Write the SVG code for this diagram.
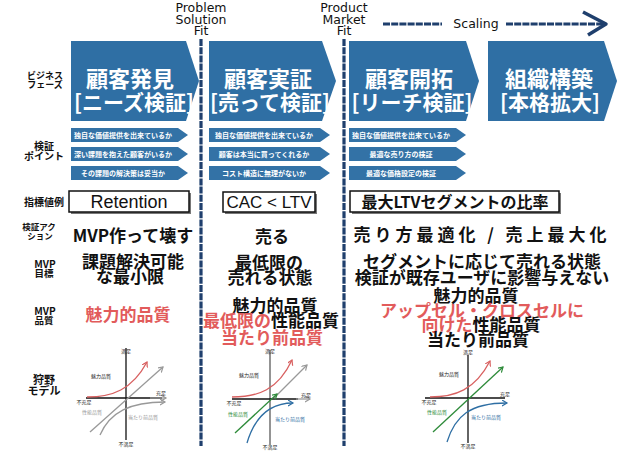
<svg xmlns="http://www.w3.org/2000/svg" width="638" height="451" viewBox="0 0 638 451">
<style>
.jp{font-family:"Noto Sans CJK JP","Noto Sans",sans-serif;font-weight:700}
.lbl{font-family:"Noto Sans CJK JP","Noto Sans",sans-serif;font-weight:700;fill:#111;text-anchor:middle}
.big{font-family:"Noto Sans CJK JP","Noto Sans",sans-serif;font-weight:700;fill:#111;text-anchor:middle;font-size:17px}
.red{fill:#e25b5b}
.blk{fill:#111}
.ph{fill:#2f6fa4}
.pht{font-family:"Noto Sans CJK JP","Noto Sans",sans-serif;font-weight:700;fill:#fff;text-anchor:middle}
.cp{fill:#3372a6}
.cpt{font-family:"Noto Sans CJK JP","Noto Sans",sans-serif;font-weight:700;fill:#fff;text-anchor:middle;font-size:7px}
.top{font-family:"DejaVu Sans",sans-serif;font-size:12.5px;fill:#111;text-anchor:middle}
.chalk{stroke:#1f3f6d;stroke-width:3.2;fill:none;stroke-dasharray:7 1.2}
.mbox{fill:#fff;stroke:#111;stroke-width:1.5}
.shadow{fill:#777}
.ax{stroke:#111;stroke-width:1.3;fill:none}
.axg{stroke:#888;stroke-width:1.8;fill:none}
.cr{stroke:#d86060;stroke-width:1.3;fill:none;marker-end:url(#ar)}
.cg{stroke:#999;stroke-width:1.3;fill:none;marker-end:url(#ag)}
.cn{stroke:#2e8b3a;stroke-width:1.3;fill:none;marker-end:url(#an)}
.cb{stroke:#2f6fa4;stroke-width:1.3;fill:none;marker-end:url(#ab)}
.tiny{font-family:"Noto Sans CJK JP","Noto Sans",sans-serif;font-size:5px;text-anchor:middle;fill:#222}
</style>
<defs>
<marker id="ar" markerWidth="8" markerHeight="8" refX="5" refY="3" orient="auto" markerUnits="userSpaceOnUse"><path d="M0,0 L5,3 L0,6" fill="none" stroke="#d86060" stroke-width="1.2"/></marker>
<marker id="ag" markerWidth="8" markerHeight="8" refX="5" refY="3" orient="auto" markerUnits="userSpaceOnUse"><path d="M0,0 L5,3 L0,6" fill="none" stroke="#999" stroke-width="1.2"/></marker>
<marker id="an" markerWidth="8" markerHeight="8" refX="5" refY="3" orient="auto" markerUnits="userSpaceOnUse"><path d="M0,0 L5,3 L0,6" fill="none" stroke="#2e8b3a" stroke-width="1.2"/></marker>
<marker id="ab" markerWidth="8" markerHeight="8" refX="5" refY="3" orient="auto" markerUnits="userSpaceOnUse"><path d="M0,0 L5,3 L0,6" fill="none" stroke="#2f6fa4" stroke-width="1.2"/></marker>
</defs>
<rect width="638" height="451" fill="#fff"/>

<!-- top labels -->
<g id="psf">
<text class="top" x="201" y="12">Problem</text>
<text class="top" x="201" y="24">Solution</text>
<text class="top" x="201" y="35">Fit</text>
</g>
<g id="pmf">
<text class="top" x="344" y="12">Product</text>
<text class="top" x="344" y="24">Market</text>
<text class="top" x="344" y="35">Fit</text>
</g>
<g id="scaling">
<line class="chalk" x1="383" y1="24" x2="442" y2="24"/>
<text class="top" x="476" y="28">Scaling</text>
<line class="chalk" x1="506" y1="24" x2="603" y2="24"/>
<polyline points="583,12 606,24 588,35" fill="none" stroke="#1f3f6d" stroke-width="3.5" stroke-linejoin="round"/>
</g>

<!-- left row labels -->
<g id="row-labels">
<text class="lbl" x="45" y="79" font-size="9">ビジネス</text>
<text class="lbl" x="45" y="88" font-size="9">フェーズ</text>
<text class="lbl" x="44" y="150" font-size="10">検証</text>
<text class="lbl" x="44" y="160" font-size="10">ポイント</text>
<text class="lbl" x="44" y="206" font-size="10">指標値例</text>
<text class="lbl" x="39" y="230" font-size="8.5">検証アク</text>
<text class="lbl" x="40" y="239" font-size="8.5">ション</text>
<text class="lbl" x="45" y="268" font-size="10">MVP</text>
<text class="lbl" x="44" y="277" font-size="9.5">目標</text>
<text class="lbl" x="45" y="315" font-size="10">MVP</text>
<text class="lbl" x="44" y="324" font-size="9.5">品質</text>
<text class="lbl" x="44" y="384" font-size="11">狩野</text>
<text class="lbl" x="44" y="395" font-size="11">モデル</text>
</g>

<!-- phase chevrons -->
<g id="phase1">
<path class="ph" d="M71,41 H186 L199,81 L186,121 H71 Z"/>
<text class="pht" x="130" y="87" font-size="22">顧客発見</text>
<text class="pht" x="134" y="110" font-size="21">[ニーズ検証]</text>
</g>
<g id="phase2">
<path class="ph" d="M209,41 H322 L336,81 L322,121 H209 Z"/>
<text class="pht" x="268" y="87" font-size="22">顧客実証</text>
<text class="pht" x="270" y="110" font-size="21">[売って検証]</text>
</g>
<g id="phase3">
<path class="ph" d="M349,41 H466 L479,81 L466,121 H349 Z"/>
<text class="pht" x="409" y="87" font-size="22">顧客開拓</text>
<text class="pht" x="412" y="110" font-size="21">[リーチ検証]</text>
</g>
<g id="phase4">
<path class="ph" d="M488,41 H604 L617,81 L604,121 H488 Z"/>
<text class="pht" x="549" y="87" font-size="22">組織構築</text>
<text class="pht" x="550" y="110" font-size="21">[本格拡大]</text>
</g>

<!-- checkpoints -->
<g id="cp1">
<path class="cp" d="M71,128 H178 L188,135 L178,142 H71 Z"/>
<text class="cpt" x="123" y="137.5">独自な価値提供を出来ているか</text>
<path class="cp" d="M71,147 H178 L188,154 L178,161 H71 Z"/>
<text class="cpt" x="123" y="156.5">深い課題を抱えた顧客がいるか</text>
<path class="cp" d="M71,166 H178 L188,173 L178,180 H71 Z"/>
<text class="cpt" x="123" y="175.5">その課題の解決策は妥当か</text>
</g>
<g id="cp2">
<path class="cp" d="M209,128 H320 L330,135 L320,142 H209 Z"/>
<text class="cpt" x="264" y="137.5">独自な価値提供を出来ているか</text>
<path class="cp" d="M209,147 H320 L330,154 L320,161 H209 Z"/>
<text class="cpt" x="264" y="156.5">顧客は本当に買ってくれるか</text>
<path class="cp" d="M209,166 H320 L330,173 L320,180 H209 Z"/>
<text class="cpt" x="264" y="175.5">コスト構造に無理がないか</text>
</g>
<g id="cp3">
<path class="cp" d="M349,128 H456 L466,135 L456,142 H349 Z"/>
<text class="cpt" x="401" y="137.5">独自な価値提供を出来ているか</text>
<path class="cp" d="M349,147 H456 L466,154 L456,161 H349 Z"/>
<text class="cpt" x="401" y="156.5">最適な売り方の検証</text>
<path class="cp" d="M349,166 H456 L466,173 L456,180 H349 Z"/>
<text class="cpt" x="401" y="175.5">最適な価格設定の検証</text>
</g>

<!-- metric boxes -->
<g id="metric1">
<rect class="shadow" x="71" y="193" width="120" height="21"/>
<rect class="mbox" x="69" y="191" width="120" height="21"/>
<text x="129" y="208" font-family="Liberation Sans, Arial, sans-serif" font-size="18" text-anchor="middle" fill="#111">Retention</text>
</g>
<g id="metric2">
<rect class="shadow" x="225" y="194" width="92" height="20"/>
<rect class="mbox" x="223" y="192" width="92" height="20"/>
<text x="269" y="208" font-family="Liberation Sans, Arial, sans-serif" font-size="17" text-anchor="middle" fill="#111">CAC &lt; LTV</text>
</g>
<g id="metric3">
<rect class="shadow" x="352" y="193" width="209" height="21"/>
<rect class="mbox" x="350" y="191" width="209" height="21"/>
<text class="lbl" x="455" y="208" font-size="16">最大LTVセグメントの比率</text>
</g>

<!-- actions -->
<g id="action1"><text class="big" x="133" y="242" font-size="18">MVP作って壊す</text></g>
<g id="action2"><text class="big" x="272" y="243" font-size="20">売る</text></g>
<g id="action3"><text class="big" x="480" y="241" font-size="21.5" textLength="253">売り方最適化 / 売上最大化</text></g>

<!-- MVP goals -->
<g id="goal1">
<text class="big" x="133" y="268">課題解決可能</text>
<text class="big" x="130" y="283">な最小限</text>
</g>
<g id="goal2">
<text class="big" x="269" y="269">最低限の</text>
<text class="big" x="270" y="284">売れる状態</text>
</g>
<g id="goal3">
<text class="big" x="482" y="268">セグメントに応じて売れる状態</text>
<text class="big" x="482" y="284">検証が既存ユーザに影響与えない</text>
</g>

<!-- MVP quality -->
<g id="quality1">
<text class="big red" x="128" y="321">魅力的品質</text>
</g>
<g id="quality2">
<text class="big" x="275" y="312">魅力的品質</text>
<text class="big" x="271" y="327"><tspan class="red">最低限の</tspan><tspan class="blk">性能品質</tspan></text>
<text class="big red" x="272" y="344">当たり前品質</text>
</g>
<g id="quality3">
<text class="big" x="476" y="302">魅力的品質</text>
<text class="big red" x="482" y="317">アップセル・クロスセルに</text>
<text class="big" x="481" y="331"><tspan class="red">向けた</tspan><tspan class="blk">性能品質</tspan></text>
<text class="big" x="478" y="346">当たり前品質</text>
</g>

<!-- Kano charts -->
<g id="kano1">
<line class="ax" x1="126" y1="348" x2="126" y2="440"/>
<line class="ax" x1="86" y1="398" x2="162" y2="398"/>
<path class="cg" d="M150,398 L166,398"/>
<path class="cr" d="M87,397 C112,397 132,390 147,362"/>
<path class="cg" d="M90,432 L163,367"/>
<path class="cg" d="M100,435 C110,412 130,402 165,402"/>
<text class="tiny red" x="101" y="378">魅力品質</text>
<text class="tiny" x="92" y="414" style="fill:#999">性能品質</text>
<text class="tiny" x="143" y="419" style="fill:#999">当たり前品質</text>
<text class="tiny" x="126" y="353">満足</text>
<text class="tiny" x="161" y="395">充足</text>
<text class="tiny" x="84" y="404">不充足</text>
<text class="tiny" x="126" y="446">不満足</text>
</g>
<g id="kano2">
<line class="axg" x1="270" y1="350" x2="270" y2="445"/>
<line class="ax" x1="232" y1="399" x2="298" y2="399"/>
<path class="cg" d="M296,399 L310,399"/>
<path class="cr" d="M232,397 C258,397 278,390 292,360"/>
<path class="cg" d="M274,398 L307,365"/>
<path class="cn" d="M235,433 L277,394"/>
<path class="cb" d="M247,443 C255,416 270,403 293,403"/>
<text class="tiny red" x="249" y="377">魅力品質</text>
<text class="tiny" x="238" y="416" style="fill:#2e8b3a">性能品質</text>
<text class="tiny" x="290" y="421" style="fill:#2f6fa4">当たり前品質</text>
<text class="tiny" x="270" y="353">満足</text>
<text class="tiny" x="306" y="397">充足</text>
<text class="tiny" x="234" y="405">不充足</text>
<text class="tiny" x="270" y="449">不満足</text>
</g>
<g id="kano3">
<line class="ax" x1="468" y1="355" x2="468" y2="443"/>
<line class="ax" x1="425" y1="398" x2="505" y2="398"/>
<path class="cr" d="M430,397 C455,397 475,390 490,361"/>
<path class="cn" d="M433,432 L503,367"/>
<path class="cb" d="M447,442 C455,416 470,403 507,403"/>
<text class="tiny red" x="449" y="376">魅力品質</text>
<text class="tiny" x="437" y="414" style="fill:#2e8b3a">性能品質</text>
<text class="tiny" x="486" y="419" style="fill:#2f6fa4">当たり前品質</text>
<text class="tiny" x="468" y="354">満足</text>
<text class="tiny" x="505" y="396">充足</text>
<text class="tiny" x="429" y="404">不充足</text>
<text class="tiny" x="468" y="448">不満足</text>
</g>

<!-- fit dividers -->
<g id="connectors">
<line class="chalk" x1="201" y1="39" x2="201" y2="446"/>
<line class="chalk" x1="344" y1="39" x2="344" y2="446"/>
</g>
</svg>
